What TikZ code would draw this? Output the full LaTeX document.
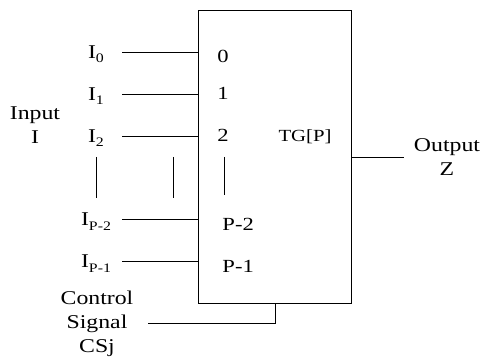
\documentclass[tikz,border=0pt]{standalone}
\usepackage{fontspec}
\setmainfont{Liberation Serif}[FakeStretch=1.22]
\usetikzlibrary{calc,positioning}
\newcommand{\insub}[1]{\raisebox{-4.5pt}{\fontsize{13}{13}\selectfont #1}}

\begin{document}
\begin{tikzpicture}[x=1pt,y=-1pt,line width=0.9pt,
  lbl/.style={font=\fontsize{19.5}{24}\selectfont,inner sep=0pt},
  port/.style={font=\fontsize{18.5}{22}\selectfont,inner sep=0pt,anchor=base west}]
  \useasboundingbox (0,0) rectangle (481,358);
  % block
  \node[draw,line width=1.1pt,minimum width=153pt,minimum height=293pt,
    inner sep=0pt,anchor=north west] (tg) at (197.5,10) {};
  \node[font=\fontsize{17}{20}\selectfont,inner sep=0pt,anchor=base] (tgname) at (305,142) {TG[P]};
  % inputs and ports
  \foreach \y/\sub/\px/\py [count=\k] in {52/0/217/63,94/1/217/100,136/2/217/142,219/P-2/222/230,261/P-1/222/272}{
    \node[lbl,anchor=base] (in\k) at (96,\y+6.5) {I\insub{\sub}};
    \coordinate (a\k) at (122,\y);
    \draw (a\k) -- (a\k -| tg.west);
    \node[port] (p\k) at (\px,\py) {\sub};
  }
  % dots between inputs
  \foreach \x/\yb [count=\k] in {96/198,173/198,224/195}
    \draw[line width=0.6pt] (\x,157) coordinate (d\k) -- (\x,\yb);
  \node[lbl,align=center] (inp) at (35,125) {Input\\I};
  % output
  \draw (tg.east) -- ++(52,0) coordinate (zout);
  \node[lbl,align=center] (outp) at (447,157) {Output\\Z};
  % control signal
  \node[lbl,align=center] (ctl) at (97,324) {Control\\Signal\\CSj};
  \coordinate (cs) at (148,323);
  \draw (cs) -| ($(tg.south west)!0.506!(tg.south east)$);
\end{tikzpicture}
\end{document}
